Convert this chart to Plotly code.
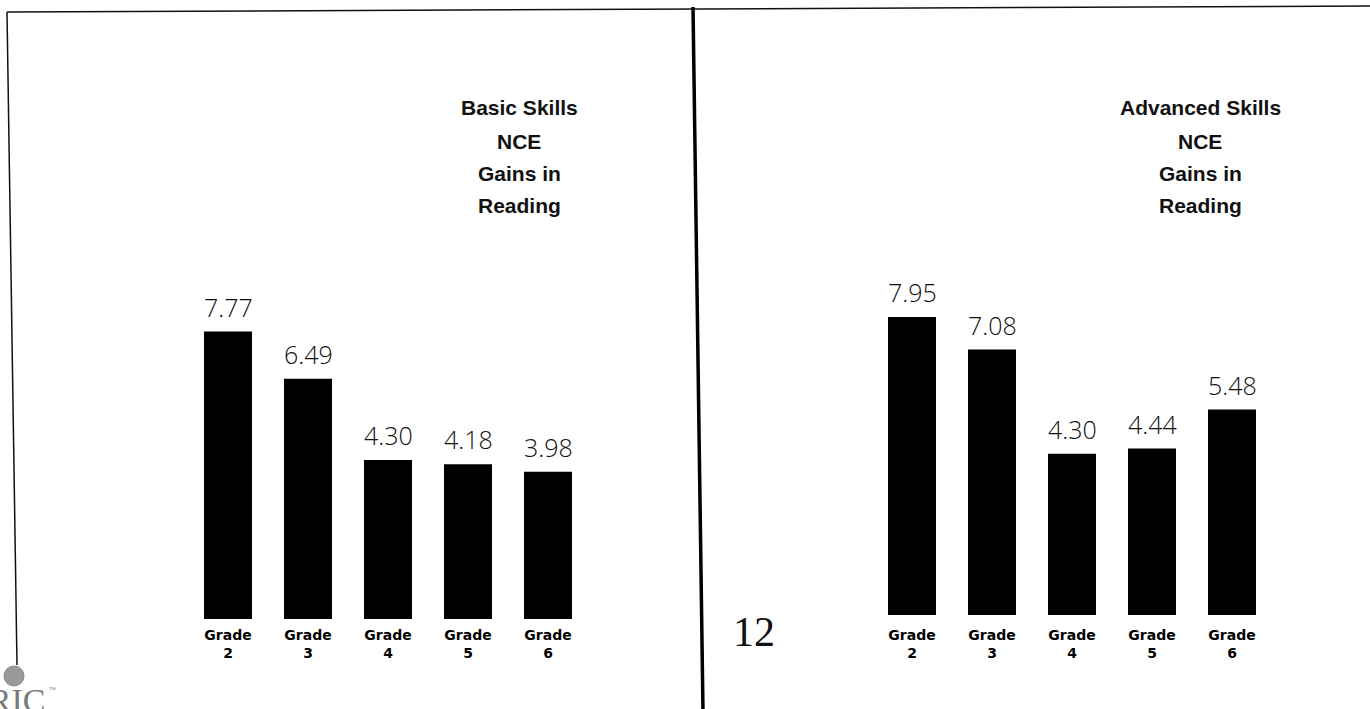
import plotly.graph_objects as go

# ---- data ----
grades = ["Grade<br>2", "Grade<br>3", "Grade<br>4", "Grade<br>5", "Grade<br>6"]
basic_values = [7.77, 6.49, 4.30, 4.18, 3.98]
advanced_values = [7.95, 7.08, 4.30, 4.44, 5.48]
basic_title = ["Basic Skills", "NCE", "Gains in", "Reading"]
advanced_title = ["Advanced Skills", "NCE", "Gains in", "Reading"]
page_number = "12"

W, H = 1370, 709


def px_x(x):
    return x / W


def px_y(y):
    return 1 - y / H


fig = go.Figure()
fig.add_trace(go.Bar(x=grades, y=basic_values, marker=dict(color="#000000", line=dict(width=0)),
                     xaxis="x", yaxis="y", showlegend=False, hoverinfo="skip"))
fig.add_trace(go.Bar(x=grades, y=advanced_values, marker=dict(color="#000000", line=dict(width=0)),
                     xaxis="x2", yaxis="y2", showlegend=False, hoverinfo="skip"))

annotations = []
value_font = dict(family="Open Sans", size=25, color="#111111", weight=300)
for g, v in zip(grades, basic_values):
    annotations.append(dict(x=g, y=v, xref="x", yref="y", text=f"{v:.2f}", showarrow=False,
                            yanchor="bottom", yshift=6, font=value_font))
for g, v in zip(grades, advanced_values):
    annotations.append(dict(x=g, y=v, xref="x2", yref="y2", text=f"{v:.2f}", showarrow=False,
                            yanchor="bottom", yshift=6, font=value_font))

title_font = dict(family="Liberation Sans", size=21, color="#111111", weight="bold")
title_rows = [108, 141, 173, 205]
for line, yy in zip(basic_title, title_rows):
    annotations.append(dict(x=px_x(519), y=px_y(yy), xref="paper", yref="paper", text=line,
                            showarrow=False, xanchor="center", yanchor="middle", font=title_font))
for line, yy in zip(advanced_title, title_rows):
    annotations.append(dict(x=px_x(1200), y=px_y(yy), xref="paper", yref="paper", text=line,
                            showarrow=False, xanchor="center", yanchor="middle", font=title_font))

# page number
annotations.append(dict(x=px_x(754), y=px_y(632), xref="paper", yref="paper", text=page_number,
                        showarrow=False, xanchor="center", yanchor="middle",
                        font=dict(family="Liberation Serif", size=42, color="#111111")))
# ERIC logo text (cut off at bottom-left, as in the scan)
annotations.append(dict(x=px_x(47), y=px_y(680), xref="paper", yref="paper", text="ERIC",
                        showarrow=False, xanchor="right", yanchor="top",
                        font=dict(family="Liberation Serif", size=34, color="#7a7a7a")))
annotations.append(dict(x=px_x(52), y=px_y(690), xref="paper", yref="paper", text="™",
                        showarrow=False, xanchor="center", yanchor="middle",
                        font=dict(family="Liberation Serif", size=7, color="#7a7a7a")))

shapes = [
    # top frame line
    dict(type="line", xref="paper", yref="paper", x0=px_x(7), y0=px_y(12), x1=px_x(1370), y1=px_y(6),
         line=dict(color="#111111", width=1.5)),
    # center divider
    dict(type="line", xref="paper", yref="paper", x0=px_x(693), y0=px_y(7), x1=px_x(703), y1=px_y(712),
         line=dict(color="#000000", width=3.5)),
    # left frame line
    dict(type="line", xref="paper", yref="paper", x0=px_x(7), y0=px_y(12), x1=px_x(17), y1=px_y(665),
         line=dict(color="#111111", width=1.5)),
    # globe of logo
    dict(type="circle", xref="paper", yref="paper", x0=px_x(4), y0=px_y(666), x1=px_x(24), y1=px_y(686),
         fillcolor="#9a9a9a", line=dict(color="#888888", width=1)),
]

axis_common = dict(showgrid=False, zeroline=False, showline=False, ticks="",
                   tickfont=dict(family="DejaVu Sans", size=14, color="#000000", weight="bold"))
yaxis_common = dict(showgrid=False, zeroline=False, showline=False, showticklabels=False, ticks="")

fig.update_layout(
    width=W, height=H,
    margin=dict(l=0, r=0, t=0, b=0),
    paper_bgcolor="#ffffff", plot_bgcolor="rgba(0,0,0,0)",
    bargap=0.4,
    xaxis=dict(domain=[px_x(188), px_x(588)], anchor="y", ticklabelstandoff=6, **axis_common),
    xaxis2=dict(domain=[px_x(872), px_x(1272)], anchor="y2", ticklabelstandoff=10, **axis_common),
    yaxis=dict(domain=[px_y(619), px_y(40)], range=[0, 579 / 37.0], anchor="x", **yaxis_common),
    yaxis2=dict(domain=[px_y(615), px_y(40)], range=[0, 575 / 37.5], anchor="x2", **yaxis_common),
    annotations=annotations,
    shapes=shapes,
)

fig.write_html("out.html")
